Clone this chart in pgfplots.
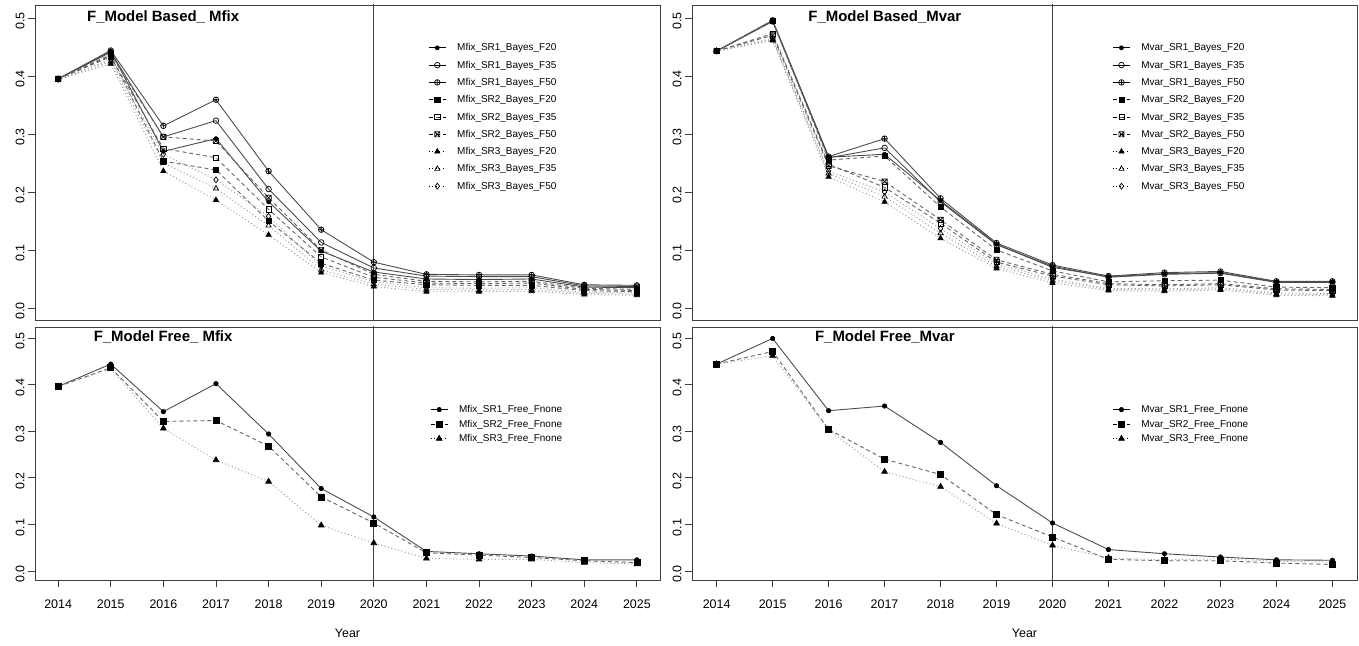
\documentclass[border=0pt]{standalone}
\usepackage{pgfplots}
\pgfplotsset{compat=1.18}
\usepackage{pgfplotstable}
\usepackage{fontspec}
\setmainfont{Liberation Sans}

\pgfdeclareplotmark{squarex}{%
  \pgfpathrectangle{\pgfpoint{-\pgfplotmarksize}{-\pgfplotmarksize}}{\pgfpoint{2\pgfplotmarksize}{2\pgfplotmarksize}}%
  \pgfpathmoveto{\pgfpoint{-\pgfplotmarksize}{-\pgfplotmarksize}}\pgfpathlineto{\pgfpoint{\pgfplotmarksize}{\pgfplotmarksize}}%
  \pgfpathmoveto{\pgfpoint{-\pgfplotmarksize}{\pgfplotmarksize}}\pgfpathlineto{\pgfpoint{\pgfplotmarksize}{-\pgfplotmarksize}}%
  \pgfusepathqstroke}

\pgfplotstableread{
year a1 a2 a3 b1 b2 b3 c1 c2 c3
2014 0.395 0.395 0.395 0.395 0.395 0.395 0.394 0.394 0.394
2015 0.443 0.441 0.444 0.435 0.433 0.437 0.421 0.425 0.428
2016 0.270 0.295 0.314 0.253 0.275 0.295 0.236 0.250 0.265
2017 0.292 0.323 0.359 0.238 0.259 0.288 0.186 0.206 0.221
2018 0.183 0.205 0.236 0.150 0.170 0.190 0.126 0.142 0.158
2019 0.098 0.113 0.135 0.077 0.088 0.100 0.061 0.066 0.072
2020 0.062 0.069 0.079 0.048 0.053 0.058 0.037 0.041 0.045
2021 0.050 0.055 0.058 0.040 0.043 0.046 0.028 0.032 0.035
2022 0.049 0.054 0.057 0.039 0.042 0.045 0.028 0.031 0.034
2023 0.050 0.054 0.057 0.039 0.043 0.046 0.029 0.032 0.035
2024 0.036 0.038 0.040 0.030 0.032 0.034 0.023 0.025 0.027
2025 0.035 0.037 0.039 0.028 0.030 0.032 0.022 0.024 0.026
}\MfixBayes

\pgfplotstableread{
year a1 a2 a3 b1 b2 b3 c1 c2 c3
2014 0.443 0.443 0.443 0.443 0.443 0.443 0.443 0.443 0.443
2015 0.495 0.494 0.496 0.495 0.473 0.470 0.461 0.463 0.465
2016 0.260 0.259 0.261 0.255 0.248 0.245 0.226 0.232 0.236
2017 0.265 0.276 0.292 0.262 0.208 0.218 0.183 0.192 0.200
2018 0.185 0.183 0.189 0.174 0.146 0.152 0.120 0.129 0.137
2019 0.110 0.109 0.112 0.100 0.079 0.083 0.068 0.072 0.076
2020 0.070 0.072 0.074 0.064 0.055 0.058 0.043 0.047 0.050
2021 0.054 0.053 0.055 0.045 0.040 0.042 0.030 0.032 0.034
2022 0.059 0.058 0.061 0.047 0.038 0.040 0.029 0.031 0.033
2023 0.061 0.060 0.063 0.048 0.040 0.042 0.031 0.033 0.035
2024 0.045 0.044 0.046 0.036 0.031 0.033 0.022 0.024 0.026
2025 0.045 0.044 0.046 0.035 0.030 0.032 0.021 0.023 0.025
}\MvarBayes

\pgfplotstableread{
year s1 s2 s3
2014 0.396 0.396 0.396
2015 0.444 0.436 0.434
2016 0.342 0.321 0.306
2017 0.402 0.323 0.238
2018 0.294 0.268 0.192
2019 0.177 0.159 0.098
2020 0.116 0.103 0.060
2021 0.042 0.039 0.027
2022 0.037 0.034 0.025
2023 0.032 0.029 0.025
2024 0.024 0.022 0.018
2025 0.024 0.018 0.015
}\MfixFree

\pgfplotstableread{
year s1 s2 s3
2014 0.444 0.444 0.444
2015 0.499 0.471 0.462
2016 0.344 0.304 0.303
2017 0.354 0.240 0.213
2018 0.276 0.207 0.181
2019 0.183 0.121 0.102
2020 0.103 0.073 0.055
2021 0.046 0.025 0.028
2022 0.037 0.022 0.024
2023 0.030 0.022 0.026
2024 0.024 0.017 0.021
2025 0.023 0.014 0.019
}\MvarFree

\tikzset{ttl/.style={font=\bfseries\fontsize{15}{18}\selectfont, anchor=center}}

\pgfplotsset{
  panel/.style={
    scale only axis, anchor=south west,
    xmin=2013.56, xmax=2025.44,
    ytick={0,0.1,0.2,0.3,0.4,0.5},
    tick align=outside, major tick length=7bp,
    xtick pos=bottom, ytick pos=left,
    axis line style={black!75, line width=0.9bp},
    tick style={black!75, line width=0.9bp},
    tick label style={font=\fontsize{12.5}{15}\selectfont, /pgf/number format/assume math mode=true},
    yticklabel style={rotate=90, anchor=south, xshift=-3bp, /pgf/number format/.cd, fixed, fixed zerofill, precision=1},
    xticklabel style={yshift=-9bp, /pgf/number format/1000 sep={}},
    legend cell align=left,
    legend image post style={black},
  },
  toppanel/.style={panel, ymin=-0.0207, ymax=0.5224, xtick=\empty, height=315bp},
  botpanel/.style={panel, ymin=-0.0193, ymax=0.5236, xtick={2014,2015,...,2025}, height=253bp,
    xlabel={Year}, xlabel style={at={(axis description cs:0.5,0)}, anchor=center, yshift=-53bp, font=\fontsize{12.5}{15}\selectfont}},
  leg/.style 2 args={legend style={draw=none, fill=none, at={(axis description cs:#1)}, anchor=north west, inner sep=0pt,
    font=\fontsize{10}{12}\selectfont, row sep=#2,
    nodes={inner sep=0pt, text height=7.5bp, text depth=1.5bp},
    /tikz/every odd column/.append style={column sep=11bp}}},
  s1/.style={solid, color=black!70, line width=0.9bp, mark options={solid, black, line width=0.7bp}},
  s2/.style={dash pattern=on 4bp off 3bp, color=black!60, line width=0.9bp, mark options={solid, black, line width=0.7bp}},
  s3/.style={dash pattern=on 1bp off 2.5bp, color=black!40, line width=0.9bp, mark options={solid, black, line width=0.7bp}},
  vline/.style={black!75, line width=0.9bp, forget plot, no marks},
}

\begin{document}
\begin{tikzpicture}[x=1bp,y=1bp]
\useasboundingbox (0,0) rectangle (1359,646);

% ---------- top left ----------
\begin{axis}[toppanel, at={(35bp,326bp)}, width=625bp, leg={0.629,0.879}{8.3bp}]
\addplot[vline] coordinates {(2020,-0.1) (2020,0.6)};
\addplot[s1, mark=*, mark size=2] table[x=year,y=a1]{\MfixBayes};
\addlegendentry{Mfix\_SR1\_Bayes\_F20}
\addplot[s1, mark=o, mark size=2.8] table[x=year,y=a2]{\MfixBayes};
\addlegendentry{Mfix\_SR1\_Bayes\_F35}
\addplot[s1, mark=oplus, mark size=2.8] table[x=year,y=a3]{\MfixBayes};
\addlegendentry{Mfix\_SR1\_Bayes\_F50}
\addplot[s2, mark=square*, mark size=2.6] table[x=year,y=b1]{\MfixBayes};
\addlegendentry{Mfix\_SR2\_Bayes\_F20}
\addplot[s2, mark=square, mark size=2.6] table[x=year,y=b2]{\MfixBayes};
\addlegendentry{Mfix\_SR2\_Bayes\_F35}
\addplot[s2, mark=squarex, mark size=2.6] table[x=year,y=b3]{\MfixBayes};
\addlegendentry{Mfix\_SR2\_Bayes\_F50}
\addplot[s3, mark=triangle*, mark size=3] table[x=year,y=c1]{\MfixBayes};
\addlegendentry{Mfix\_SR3\_Bayes\_F20}
\addplot[s3, mark=triangle, mark size=3] table[x=year,y=c2]{\MfixBayes};
\addlegendentry{Mfix\_SR3\_Bayes\_F35}
\addplot[s3, mark=diamond, mark size=3] table[x=year,y=c3]{\MfixBayes};
\addlegendentry{Mfix\_SR3\_Bayes\_F50}
\node[ttl] at (axis description cs:0.205,0.962) {F\_Model Based\_ Mfix};
\end{axis}

% ---------- top right ----------
\begin{axis}[toppanel, at={(692bp,326bp)}, width=665bp, leg={0.632,0.879}{8.3bp}]
\addplot[vline] coordinates {(2020,-0.1) (2020,0.6)};
\addplot[s1, mark=*, mark size=2] table[x=year,y=a1]{\MvarBayes};
\addlegendentry{Mvar\_SR1\_Bayes\_F20}
\addplot[s1, mark=o, mark size=2.8] table[x=year,y=a2]{\MvarBayes};
\addlegendentry{Mvar\_SR1\_Bayes\_F35}
\addplot[s1, mark=oplus, mark size=2.8] table[x=year,y=a3]{\MvarBayes};
\addlegendentry{Mvar\_SR1\_Bayes\_F50}
\addplot[s2, mark=square*, mark size=2.6] table[x=year,y=b1]{\MvarBayes};
\addlegendentry{Mvar\_SR2\_Bayes\_F20}
\addplot[s2, mark=square, mark size=2.6] table[x=year,y=b2]{\MvarBayes};
\addlegendentry{Mvar\_SR2\_Bayes\_F35}
\addplot[s2, mark=squarex, mark size=2.6] table[x=year,y=b3]{\MvarBayes};
\addlegendentry{Mvar\_SR2\_Bayes\_F50}
\addplot[s3, mark=triangle*, mark size=3] table[x=year,y=c1]{\MvarBayes};
\addlegendentry{Mvar\_SR3\_Bayes\_F20}
\addplot[s3, mark=triangle, mark size=3] table[x=year,y=c2]{\MvarBayes};
\addlegendentry{Mvar\_SR3\_Bayes\_F35}
\addplot[s3, mark=diamond, mark size=3] table[x=year,y=c3]{\MvarBayes};
\addlegendentry{Mvar\_SR3\_Bayes\_F50}
\node[ttl] at (axis description cs:0.29,0.962) {F\_Model Based\_Mvar};
\end{axis}

% ---------- bottom left ----------
\begin{axis}[botpanel, at={(35bp,66bp)}, width=625bp, leg={0.632,0.692}{5.5bp}]
\addplot[vline] coordinates {(2020,-0.1) (2020,0.6)};
\addplot[s1, mark=*, mark size=2.2] table[x=year,y=s1]{\MfixFree};
\addlegendentry{Mfix\_SR1\_Free\_Fnone}
\addplot[s2, mark=square*, mark size=3] table[x=year,y=s2]{\MfixFree};
\addlegendentry{Mfix\_SR2\_Free\_Fnone}
\addplot[s3, mark=triangle*, mark size=3.3] table[x=year,y=s3]{\MfixFree};
\addlegendentry{Mfix\_SR3\_Free\_Fnone}
\node[ttl] at (axis description cs:0.205,0.960) {F\_Model Free\_ Mfix};
\end{axis}

% ---------- bottom right ----------
\begin{axis}[botpanel, at={(692bp,66bp)}, width=665bp, leg={0.632,0.692}{5.5bp}]
\addplot[vline] coordinates {(2020,-0.1) (2020,0.6)};
\addplot[s1, mark=*, mark size=2.2] table[x=year,y=s1]{\MvarFree};
\addlegendentry{Mvar\_SR1\_Free\_Fnone}
\addplot[s2, mark=square*, mark size=3] table[x=year,y=s2]{\MvarFree};
\addlegendentry{Mvar\_SR2\_Free\_Fnone}
\addplot[s3, mark=triangle*, mark size=3.3] table[x=year,y=s3]{\MvarFree};
\addlegendentry{Mvar\_SR3\_Free\_Fnone}
\node[ttl] at (axis description cs:0.29,0.960) {F\_Model Free\_Mvar};
\end{axis}
\end{tikzpicture}
\end{document}
